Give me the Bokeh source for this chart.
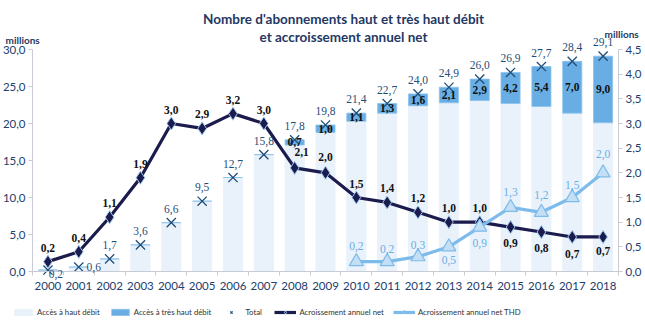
from bokeh.plotting import figure
from bokeh.models import (Range1d, LinearAxis, FixedTicker, CustomJSTickFormatter, ColumnDataSource,
                          LabelSet, Label, Legend, LegendItem)
from bokeh.embed import file_html
from bokeh.resources import INLINE

years = list(range(2000, 2019))
total = [0.2, 0.6, 1.7, 3.6, 6.6, 9.5, 12.7, 15.8, 17.8, 19.8, 21.4, 22.7, 24.0, 24.9, 26.0, 26.9, 27.7, 28.4, 29.1]
thd = [0, 0, 0, 0, 0, 0, 0, 0, 0.7, 1.0, 1.1, 1.3, 1.6, 2.1, 2.9, 4.2, 5.4, 7.0, 9.0]
net = [0.2, 0.4, 1.1, 1.9, 3.0, 2.9, 3.2, 3.0, 2.1, 2.0, 1.5, 1.4, 1.2, 1.0, 1.0, 0.9, 0.8, 0.7, 0.7]
thd_years = list(range(2010, 2019))
thd_net = [0.2, 0.2, 0.3, 0.5, 0.9, 1.3, 1.2, 1.5, 2.0]
left_ticks = [0, 5, 10, 15, 20, 25, 30]
right_ticks = [0, 0.5, 1, 1.5, 2, 2.5, 3, 3.5, 4, 4.5]

hd = [round(t - v, 1) for t, v in zip(total, thd)]

def fr(v):
    return f"{v:.1f}".replace(".", ",")

FONT = "Lato"
C_HD = "#e9f2fb"
C_THD = "#68aee4"
C_TOT = "#1f4e79"
C_NET = "#1b1b4d"
C_THDN = "#7dbbea"
C_AX = "#22406e"

W, H = 645, 323
# pixel layout of the plotting area (canvas coords)
PX_L, PX_R = 32, 618     # x of 1999.5 and 2018.5
PY_0, PY_T = 271, 49     # y of value 0 and value 30 (left axis)
x0, x1 = years[0] - 0.5, years[-1] + 0.5
xs = (PX_R - PX_L) / (x1 - x0)
ys = (PY_0 - PY_T) / 30.0
xr = Range1d(x0 - PX_L / xs, x1 + (W - PX_R) / xs)
yr = Range1d(-(H - PY_0) / ys, 30 + PY_T / ys)
k = 4.5 / 30.0

p = figure(width=W, height=H, output_backend="svg", toolbar_location=None,
           x_range=xr, y_range=yr, min_border=0)
p.outline_line_color = None
p.xgrid.visible = False
p.ygrid.visible = False
p.extra_y_ranges = {"right": Range1d(yr.start * k, yr.end * k)}

src = ColumnDataSource(dict(x=years, hd=hd, thd=thd, total=total, top=[a + b for a, b in zip(hd, thd)]))
r_hd = p.vbar(x="x", bottom=0, top="hd", width=0.62, color=C_HD, source=src)
r_thd = p.vbar(x="x", bottom="hd", top="top", width=0.62, fill_color=C_THD, line_color="#8cc3ec",
               line_width=0.8, source=src)
r_tot = p.scatter(x="x", y="total", marker="x", size=13, line_color=C_TOT, line_width=1.3, source=src)

r_net_l = p.line(years, net, y_range_name="right", line_color=C_NET, line_width=3.2)
r_net_m = p.scatter(years, net, y_range_name="right", marker="diamond", size=13,
                    fill_color=C_NET, line_color="#9cc7ee", line_width=1)
r_tn_l = p.line(thd_years, thd_net, y_range_name="right", line_color=C_THDN, line_width=3.2)
r_tn_m = p.scatter(thd_years, thd_net, y_range_name="right", marker="triangle", size=14,
                   fill_color="#c4def4", line_color=C_THDN, line_width=1.2)

# axes
fmt = CustomJSTickFormatter(code="return tick.toFixed(1).replace('.', ',');")
ly = p.yaxis[0]
ly.ticker = FixedTicker(ticks=left_ticks)
ly.bounds = (0, 30)
ly.fixed_location = x0
ry = LinearAxis(y_range_name="right", ticker=FixedTicker(ticks=right_ticks), bounds=(0, 4.5), fixed_location=x1)
p.add_layout(ry, "right")
xa = p.xaxis[0]
xa.ticker = FixedTicker(ticks=years, minor_ticks=[y - 0.5 for y in years] + [x1])
xa.bounds = (x0, x1)
xa.fixed_location = 0
for ax in (ly, ry, xa):
    ax.major_label_text_font = FONT
    ax.major_label_text_font_size = "11.5px"
    ax.major_label_text_color = C_AX
    ax.axis_line_color = "#c8cbd6"
    ax.major_tick_line_color = "#c8cbd6"
    ax.minor_tick_line_color = None
    ax.major_tick_in = 0
    ax.major_tick_out = 4
    ax.major_label_standoff = 3
ly.formatter = fmt
ry.formatter = fmt
xa.major_tick_out = 0
xa.minor_tick_line_color = "#c8cbd6"
xa.minor_tick_in = 0
xa.minor_tick_out = 4
xa.major_label_standoff = 6

# data labels
tot_xo = [8, 15] + [0] * 17
tot_yo = [-4, 0] + [14] * 17
p.add_layout(LabelSet(x="x", y="y", text="t", x_offset="xo", y_offset="yo",
                      source=ColumnDataSource(dict(x=years, y=total, t=[fr(v) for v in total], xo=tot_xo, yo=tot_yo)),
                      text_align="center", text_baseline="middle", text_font=FONT,
                      text_font_size="11.5px", text_color=C_TOT))

thd_idx = [i for i, v in enumerate(thd) if v > 0]
p.add_layout(LabelSet(x="x", y="y", text="t",
                      source=ColumnDataSource(dict(x=[years[i] for i in thd_idx],
                                                   y=[hd[i] + thd[i] / 2 for i in thd_idx],
                                                   t=[fr(thd[i]) for i in thd_idx])),
                      text_align="center", text_baseline="middle", text_font=FONT,
                      text_font_size="11.5px", text_font_style="bold", text_color="#111111"))

net_yo = [14] * 15 + [-16, -16, -17, -14]
net_yo[8] = 16
net_yo[9] = 16
net_xo = [0] * 19
net_xo[8] = 7
p.add_layout(LabelSet(x="x", y="y", text="t", x_offset="xo", y_offset="yo", y_range_name="right",
                      source=ColumnDataSource(dict(x=years, y=net, t=[fr(v) for v in net], xo=net_xo, yo=net_yo)),
                      text_align="center", text_baseline="middle", text_font=FONT,
                      text_font_size="11.5px", text_font_style="bold", text_color="#111111"))

tn_yo = [16, 13, 12, -13, -16, 15, 17, 13, 19]
p.add_layout(LabelSet(x="x", y="y", text="t", y_offset="yo", y_range_name="right",
                      source=ColumnDataSource(dict(x=thd_years, y=thd_net, t=[fr(v) for v in thd_net], yo=tn_yo)),
                      text_align="center", text_baseline="middle", text_font=FONT,
                      text_font_size="11.5px", text_color="#6aaee4"))

# titles (screen units: x from left, y from bottom of canvas)
def slabel(text, cx, cy, size, color, bold=True, align="center"):
    p.add_layout(Label(x=cx, y=H - cy, x_units="screen", y_units="screen", text=text, text_font=FONT,
                       text_font_size=size, text_font_style="bold" if bold else "normal",
                       text_color=color, text_align=align, text_baseline="middle"))

slabel("Nombre d'abonnements haut et très haut débit", 343, 18, "13.5px", "#1f3864")
slabel("et accroissement annuel net", 343, 36, "13.5px", "#1f3864")
slabel("millions", 5, 39, "10px", "#1f3864", align="left")
slabel("millions", 604, 33, "10px", "#1f3864", align="left")

legend = Legend(items=[
    LegendItem(label="Accès à haut débit", renderers=[r_hd]),
    LegendItem(label="Accès à très haut débit", renderers=[r_thd]),
    LegendItem(label="Total", renderers=[r_tot]),
    LegendItem(label="Acroissement annuel net", renderers=[r_net_l, r_net_m]),
    LegendItem(label="Acroissement annuel net THD", renderers=[r_tn_l, r_tn_m]),
], orientation="horizontal", location=(12, 6), label_text_font=FONT, label_text_font_size="7.8px",
    label_text_color="#333333", glyph_width=22, glyph_height=8, spacing=9, label_standoff=3,
    border_line_color=None, background_fill_alpha=0, padding=0, margin=0)
p.add_layout(legend)

open("out.html", "w").write(file_html(p, INLINE))
